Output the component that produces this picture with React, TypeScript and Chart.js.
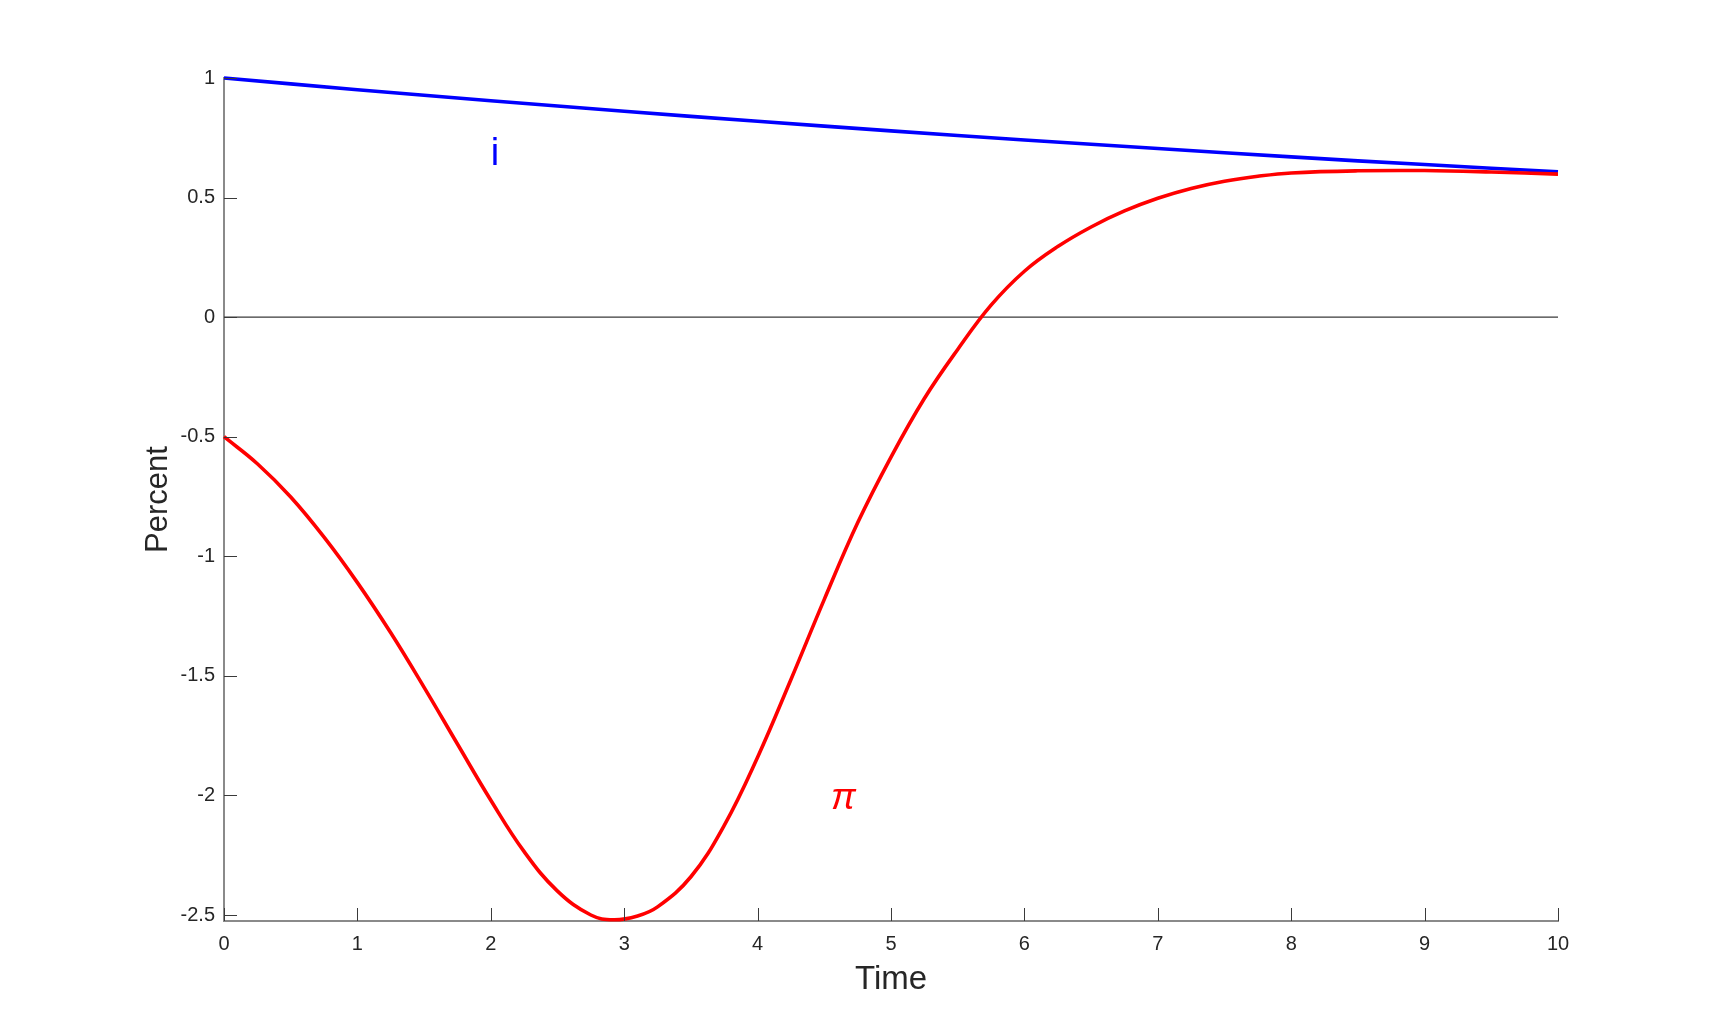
import React, { useEffect, useRef } from "react";
import { Chart, registerables } from "chart.js";

Chart.register(...registerables);

// ---- data ----
const timeI = [0, 1, 2, 3, 4, 5, 6, 7, 8, 9, 10];
const seriesI = [1.0, 0.951, 0.905, 0.861, 0.819, 0.779, 0.741, 0.705, 0.67, 0.638, 0.608];

const timePi = [
  0, 0.25, 0.5, 0.75, 1, 1.25, 1.5, 1.75, 2, 2.25, 2.5, 2.75, 2.92, 3.1, 3.25, 3.5, 3.75, 4,
  4.25, 4.5, 4.75, 5, 5.25, 5.5, 5.75, 6, 6.25, 6.5, 6.75, 7, 7.25, 7.5, 7.75, 8, 8.5, 9, 9.5, 10,
];
const seriesPi = [
  -0.5, -0.613, -0.752, -0.92, -1.11, -1.32, -1.548, -1.785, -2.02, -2.235, -2.4, -2.5, -2.52,
  -2.504, -2.466, -2.34, -2.125, -1.84, -1.515, -1.18, -0.86, -0.585, -0.34, -0.135, 0.05, 0.192,
  0.295, 0.377, 0.444, 0.497, 0.538, 0.568, 0.589, 0.603, 0.612, 0.613, 0.607, 0.598,
];

const zeroT = [0, 10];
const zeroV = [0, 0];

const xTicks = [0, 1, 2, 3, 4, 5, 6, 7, 8, 9, 10];
const xTickLabels = ["0", "1", "2", "3", "4", "5", "6", "7", "8", "9", "10"];
const yTicks = [-2.5, -2, -1.5, -1, -0.5, 0, 0.5, 1];
const yTickLabels = ["-2.5", "-2", "-1.5", "-1", "-0.5", "0", "0.5", "1"];

const xMin = 0;
const xMax = 10;
const yMin = -2.525;
const yMax = 1;

const annoText = ["i", "π"];
const annoX = [2.0, 4.55];
const annoY = [0.68, -2.014];

const xTitle = "Time";
const yTitle = "Percent";

const FONT = "'Liberation Sans', Arial, Helvetica, sans-serif";

const toPoints = (xs: number[], ys: number[]) => xs.map((x, i) => ({ x, y: ys[i] }));

const innerTicks = {
  id: "innerTicks",
  afterDatasetsDraw(chart: any) {
    const { ctx, chartArea, scales } = chart;
    const x = scales.x;
    const y = scales.y;
    ctx.save();
    ctx.strokeStyle = "#3a3a3a";
    ctx.lineWidth = 1;
    ctx.beginPath();
    x.ticks.forEach((t: any) => {
      const px = Math.round(x.getPixelForValue(t.value)) + 0.5;
      ctx.moveTo(px, chartArea.bottom);
      ctx.lineTo(px, chartArea.bottom - 13);
    });
    y.ticks.forEach((t: any) => {
      const py = Math.round(y.getPixelForValue(t.value)) + 0.5;
      ctx.moveTo(chartArea.left, py);
      ctx.lineTo(chartArea.left + 13, py);
    });
    ctx.stroke();
    ctx.restore();
  },
};

const annotations = {
  id: "annotations",
  afterDatasetsDraw(chart: any) {
    const { ctx, scales } = chart;
    const styles = [
      { color: "#0000ff", font: `38px ${FONT}` },
      { color: "#ff0000", font: `italic 37px ${FONT}` },
    ];
    ctx.save();
    ctx.textAlign = "left";
    ctx.textBaseline = "middle";
    annoText.forEach((txt, i) => {
      ctx.fillStyle = styles[i].color;
      ctx.font = styles[i].font;
      ctx.fillText(txt, scales.x.getPixelForValue(annoX[i]), scales.y.getPixelForValue(annoY[i]));
    });
    ctx.restore();
  },
};

export default function App() {
  const ref = useRef<HTMLCanvasElement | null>(null);

  useEffect(() => {
    document.body.style.margin = "0";
    document.body.style.background = "#ffffff";
    if (!ref.current) return;
    const chart = new Chart(ref.current, {
      type: "line",
      data: {
        datasets: [
          {
            label: "pi",
            data: toPoints(timePi, seriesPi),
            borderColor: "#ff0000",
            borderWidth: 3.6,
            pointRadius: 0,
            tension: 0.4,
            fill: false,
            clip: false as any,
          },
          {
            label: "i",
            data: toPoints(timeI, seriesI),
            borderColor: "#0000ff",
            borderWidth: 3.6,
            pointRadius: 0,
            tension: 0.4,
            fill: false,
            clip: false as any,
          },
          {
            label: "zero",
            data: toPoints(zeroT, zeroV),
            borderColor: "#3a3a3a",
            borderWidth: 1.2,
            pointRadius: 0,
            fill: false,
          },
        ],
      },
      options: {
        animation: false,
        responsive: false,
        devicePixelRatio: 1,
        events: [],
        layout: { padding: { left: 0, right: 163, top: 78, bottom: 0 } },
        plugins: {
          legend: { display: false },
          tooltip: { enabled: false },
        },
        scales: {
          x: {
            type: "linear",
            min: xMin,
            max: xMax,
            afterBuildTicks: (scale: any) => {
              scale.ticks = xTicks.map((v) => ({ value: v }));
            },
            afterFit: (scale: any) => {
              scale.height = 115;
            },
            grid: { display: false, drawTicks: false },
            border: { display: true, color: "#8a8a8a", width: 2 },
            ticks: {
              autoSkip: false,
              maxRotation: 0,
              padding: 11,
              color: "#262626",
              font: { family: FONT, size: 20 },
              callback: (_v: any, i: number) => xTickLabels[i],
            },
            title: {
              display: true,
              text: xTitle,
              color: "#262626",
              font: { family: FONT, size: 33 },
              padding: { top: 0, bottom: 36 },
            },
          },
          y: {
            type: "linear",
            min: yMin,
            max: yMax,
            afterBuildTicks: (scale: any) => {
              scale.ticks = yTicks.map((v) => ({ value: v }));
            },
            afterFit: (scale: any) => {
              scale.width = 224;
            },
            grid: { display: false, drawTicks: false },
            border: { display: true, color: "#8a8a8a", width: 2 },
            ticks: {
              autoSkip: false,
              padding: 9,
              color: "#262626",
              font: { family: FONT, size: 20 },
              callback: (_v: any, i: number) => yTickLabels[i],
            },
            title: {
              display: true,
              text: yTitle,
              color: "#262626",
              font: { family: FONT, size: 31 },
              padding: { top: 140, bottom: 0 },
            },
          },
        },
      },
      plugins: [innerTicks, annotations],
    });
    return () => chart.destroy();
  }, []);

  return (
    <div style={{ width: 1721, height: 1036, background: "#fff" }}>
      <canvas ref={ref} width={1721} height={1036} style={{ display: "block" }} />
    </div>
  );
}
